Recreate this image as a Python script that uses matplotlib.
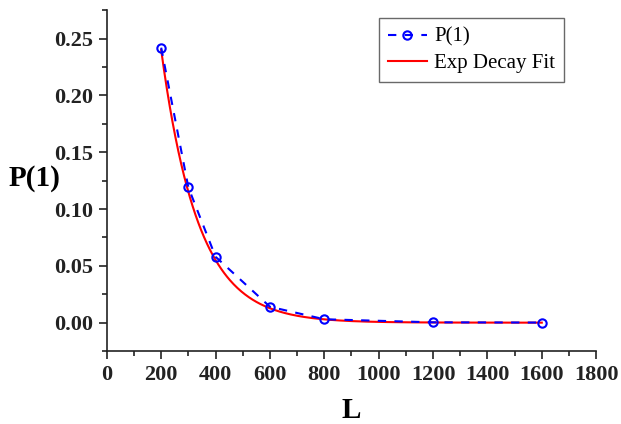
import numpy as np
import matplotlib
matplotlib.use("Agg")
import matplotlib.pyplot as plt
from matplotlib.ticker import MultipleLocator

L = [200, 300, 400, 600, 800, 1200, 1600]
P1 = [0.242, 0.119, 0.058, 0.014, 0.003, 0.0003, 0.0001]

# exponential decay fit parameters (y = y0 + A*exp(-x/t))
fit_A = 0.240 * np.exp(200 / 136.0)
fit_t = 136.0
fit_y0 = 0.0

plt.rcParams['font.family'] = ['Liberation Serif', 'DejaVu Serif']

fig = plt.figure(figsize=(6.21, 4.24), dpi=100)
ax = fig.add_axes([0.172, 0.172, 0.788, 0.804])

xf = np.linspace(200, 1600, 400)
yf = fit_y0 + fit_A * np.exp(-xf / fit_t)

ax.plot(L, P1, linestyle=(0, (4, 4)), color='#0000ff', lw=1.5, marker='o',
        markersize=6, markerfacecolor='none', markeredgecolor='#0000ff',
        markeredgewidth=1.5, label='P(1)', zorder=3)
ax.plot(xf, yf, color='#ff0000', lw=1.5, label='Exp Decay Fit', zorder=2)

ax.set_xlim(0, 1800)
ax.set_ylim(-0.025, 0.275)
ax.xaxis.set_major_locator(MultipleLocator(200))
ax.xaxis.set_minor_locator(MultipleLocator(100))
ax.set_yticks([0, 0.05, 0.10, 0.15, 0.20, 0.25])
ax.yaxis.set_minor_locator(MultipleLocator(0.025))
ax.set_yticklabels(['0.00', '0.05', '0.10', '0.15', '0.20', '0.25'])

for s in ['top', 'right']:
    ax.spines[s].set_visible(False)
for s in ['left', 'bottom']:
    ax.spines[s].set_linewidth(1.2)
    ax.spines[s].set_color('#222222')

ax.tick_params(which='major', direction='out', length=6, width=1.2, colors='#222222',
               labelsize=16, pad=4)
ax.tick_params(which='minor', direction='out', length=3.5, width=1.2, colors='#222222')
for lab in ax.get_xticklabels() + ax.get_yticklabels():
    lab.set_fontweight('bold')

ax.set_xlabel('L', fontsize=21, fontweight='bold')
ax.xaxis.set_label_coords(0.5, -0.175)
ax.xaxis.label.set_va('center')
ax.set_ylabel('P(1)', fontsize=21, fontweight='bold', rotation=0,
              ha='center', va='center')
ax.yaxis.set_label_coords(-0.147, 0.507)

leg = ax.legend(loc='upper right', bbox_to_anchor=(0.935, 0.977), fontsize=15,
                frameon=True, fancybox=False, edgecolor='#444444',
                handlelength=1.85, borderpad=0.45, labelspacing=0.3, handletextpad=0.35,
                borderaxespad=0)
leg.get_frame().set_linewidth(1.0)

fig.savefig('out.png', dpi=100)
